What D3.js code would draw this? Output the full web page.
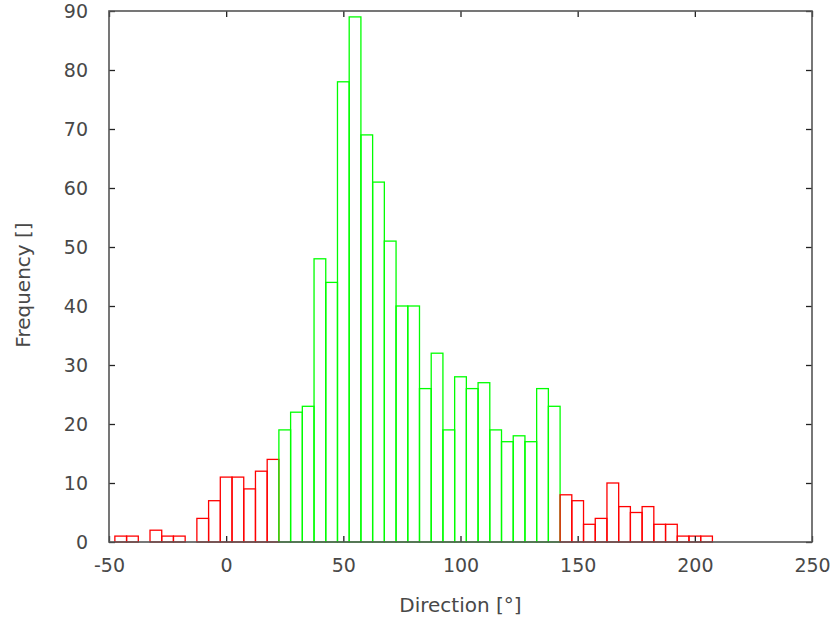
<!DOCTYPE html>
<html>
<head>
<meta charset="utf-8">
<script src="https://cdn.jsdelivr.net/npm/d3@7"></script>
<style>
  body { margin: 0; background: #fff; }
  text { font-family: "DejaVu Sans", sans-serif; fill: #484848; }
</style>
</head>
<body>
<svg width="832" height="621"></svg>
<script>
// bins are 5 degrees wide, centred on these values
var tailCenters = [-45, -40, -30, -25, -20, -10, -5, 0, 5, 10, 15, 20,
                   145, 150, 155, 160, 165, 170, 175, 180, 185, 190, 195, 200, 205];
var tailCounts  = [1, 1, 2, 1, 1, 4, 7, 11, 11, 9, 12, 14,
                   8, 7, 3, 4, 10, 6, 5, 6, 3, 3, 1, 1, 1];

var coreCenters = [25, 30, 35, 40, 45, 50, 55, 60, 65, 70, 75, 80,
                   85, 90, 95, 100, 105, 110, 115, 120, 125, 130, 135, 140];
var coreCounts  = [19, 22, 23, 48, 44, 78, 89, 69, 61, 51, 40, 40,
                   26, 32, 19, 28, 26, 27, 19, 17, 18, 17, 26, 23];

var binWidth = 5;
var xTicks = [-50, 0, 50, 100, 150, 200, 250];
var yTicks = [0, 10, 20, 30, 40, 50, 60, 70, 80, 90];

var svg = d3.select("svg"),
    pLeft = 109, pTop = 11, pRight = 812, pBottom = 542;

var x = d3.scaleLinear().domain([-50, 250]).range([pLeft, pRight]);
var y = d3.scaleLinear().domain([0, 90]).range([pBottom, pTop]);

// one list, sorted by x, so later boxes draw over shared edges like gnuplot does
var bins = tailCenters.map(function(c, i) { return {c: c, n: tailCounts[i], col: "#ff0000"}; })
  .concat(coreCenters.map(function(c, i) { return {c: c, n: coreCounts[i], col: "#00ff00"}; }))
  .sort(function(a, b) { return a.c - b.c; });

svg.append("g")
  .selectAll("rect")
  .data(bins)
  .enter().append("rect")
    .attr("x", function(d) { return x(d.c - binWidth / 2); })
    .attr("y", function(d) { return y(d.n); })
    .attr("width", function(d) { return x(d.c + binWidth / 2) - x(d.c - binWidth / 2); })
    .attr("height", function(d) { return y(0) - y(d.n); })
    .attr("fill", "none")
    .attr("stroke", function(d) { return d.col; })
    .attr("stroke-width", 1.3);

var plain = function(d) { return String(d); };

function styleAxis(g) {
  g.select(".domain").remove();
  g.selectAll(".tick line").attr("stroke", "#222").attr("stroke-width", 1.3);
  g.selectAll(".tick text").attr("fill", "#484848")
    .attr("font-family", "DejaVu Sans").style("font-size", "19px");
}

svg.append("g")
  .attr("transform", "translate(" + pLeft + ",0)")
  .call(d3.axisLeft(y).tickValues(yTicks).tickSize(-6).tickPadding(21).tickFormat(plain))
  .call(styleAxis);

svg.append("g")
  .attr("transform", "translate(" + pRight + ",0)")
  .call(d3.axisRight(y).tickValues(yTicks).tickSize(-6).tickFormat(""))
  .call(styleAxis);

svg.append("g")
  .attr("transform", "translate(0," + pBottom + ")")
  .call(d3.axisBottom(x).tickValues(xTicks).tickSize(-6).tickPadding(17).tickFormat(plain))
  .call(styleAxis);

svg.append("g")
  .attr("transform", "translate(0," + pTop + ")")
  .call(d3.axisTop(x).tickValues(xTicks).tickSize(-6).tickFormat(""))
  .call(styleAxis);

svg.append("rect")
  .attr("x", pLeft).attr("y", pTop)
  .attr("width", pRight - pLeft).attr("height", pBottom - pTop)
  .attr("fill", "none")
  .attr("stroke", "#555")
  .attr("stroke-width", 1.6);

svg.append("text")
  .attr("x", (pLeft + pRight) / 2)
  .attr("y", 612)
  .attr("text-anchor", "middle")
  .style("font-size", "20px")
  .text("Direction [°]");

svg.append("text")
  .attr("transform", "translate(30,285) rotate(-90)")
  .attr("text-anchor", "middle")
  .style("font-size", "20px")
  .text("Frequency []");
</script>
</body>
</html>
